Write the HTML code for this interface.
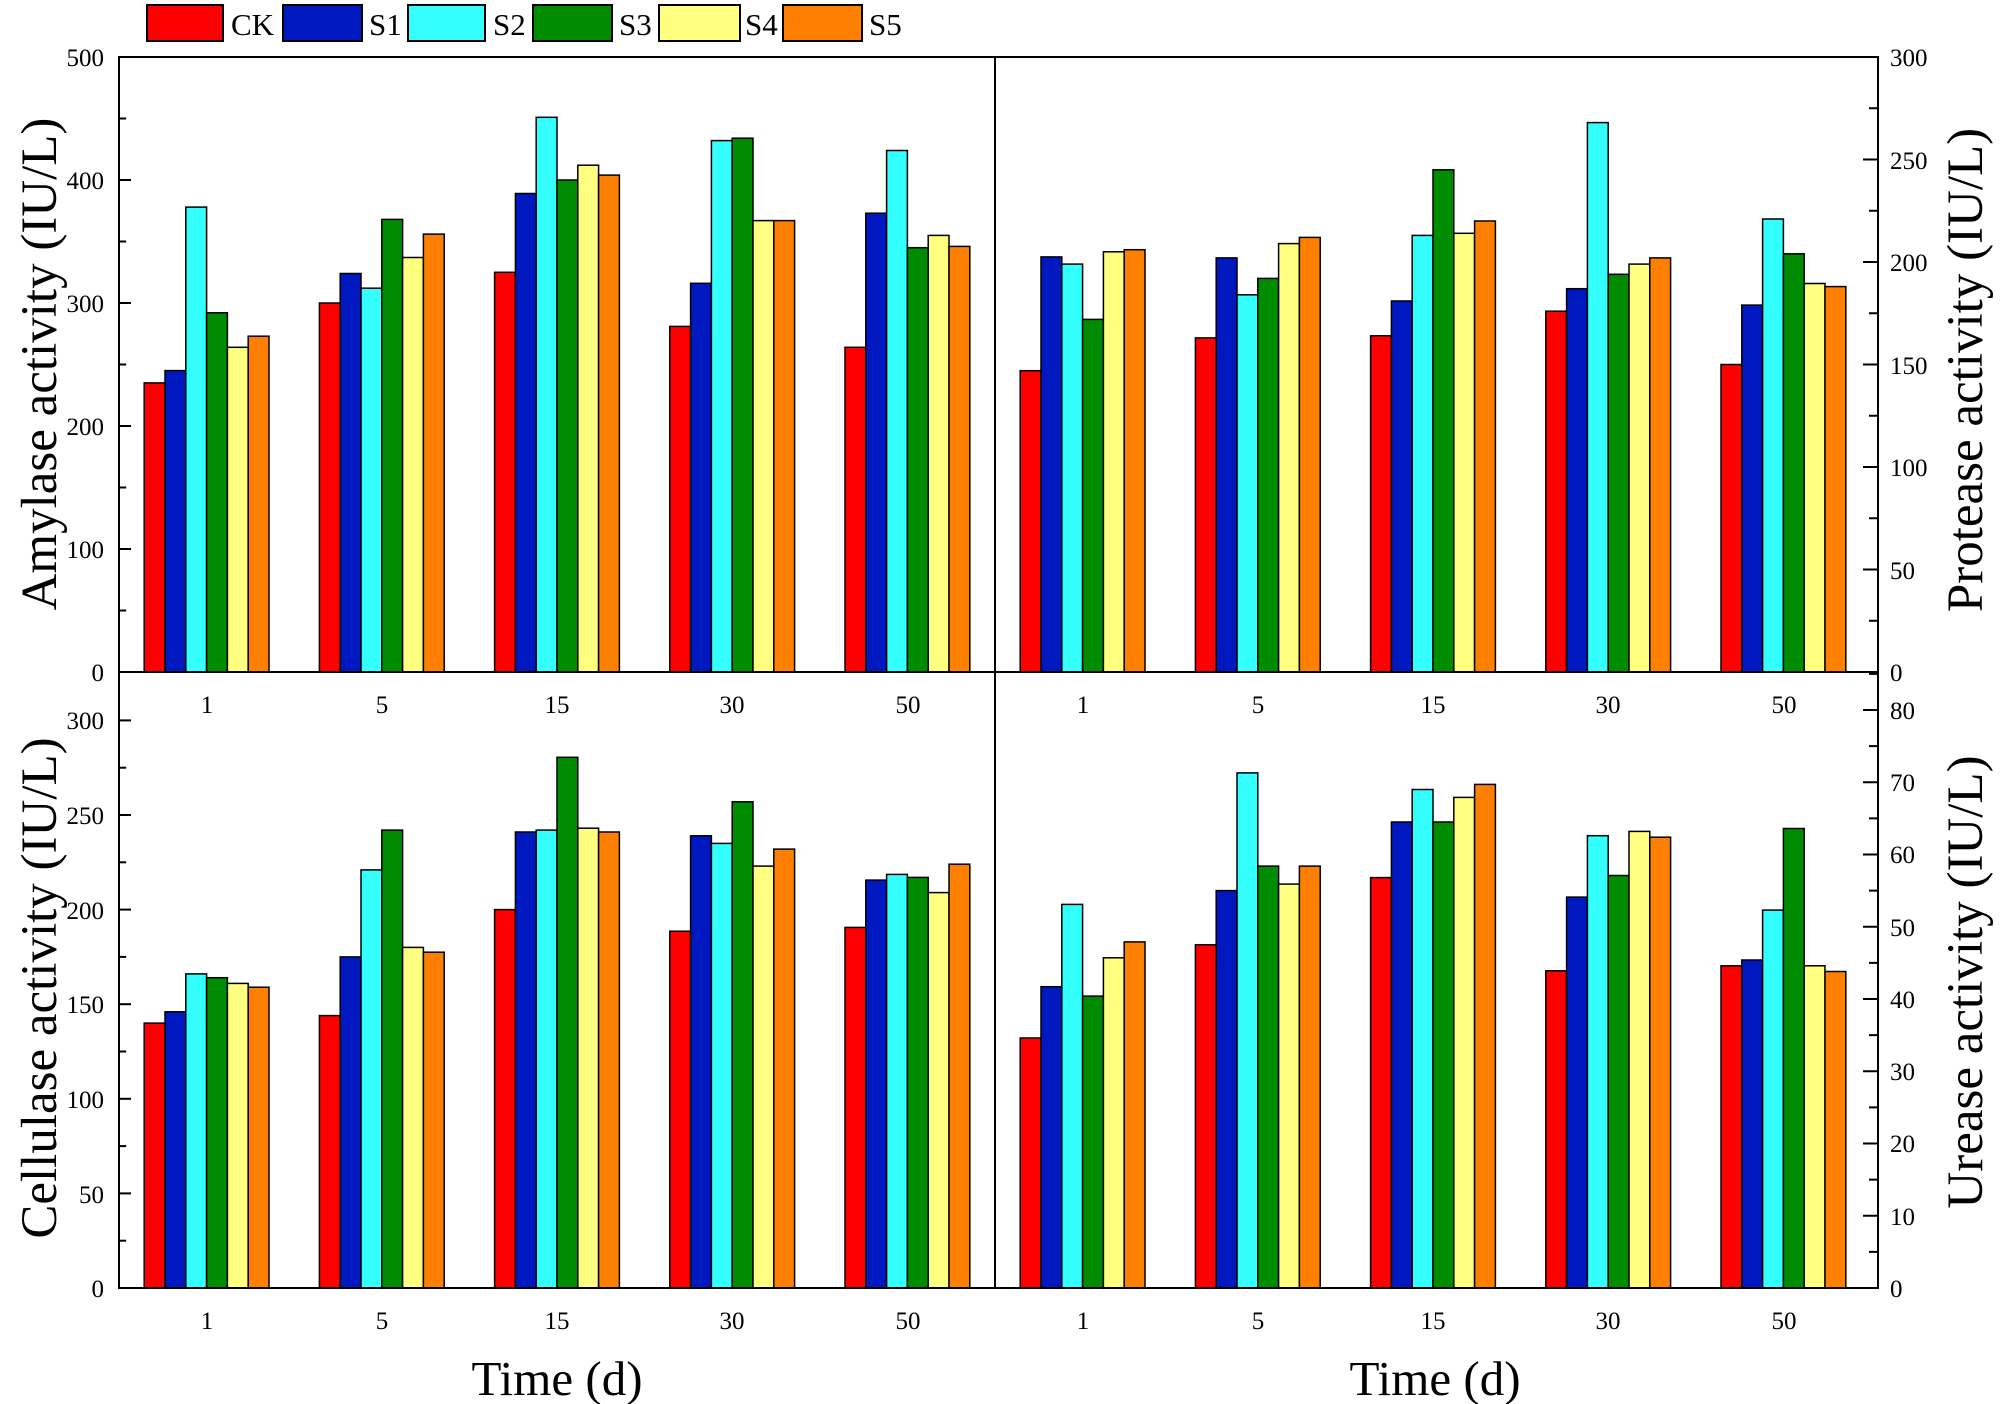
<!DOCTYPE html>
<html><head><meta charset="utf-8"><style>
html,body{margin:0;padding:0;background:#fff}
svg{display:block}
text{font-family:"Liberation Serif",serif;fill:#000}
</style></head><body>
<svg id="s" width="2000" height="1404" viewBox="0 0 2000 1404" xmlns="http://www.w3.org/2000/svg">
<g id="bars"></g>
<g stroke="#000" stroke-width="2" fill="none">
<rect x="119" y="57" width="1759" height="1231"/>
<line x1="995" y1="57" x2="995" y2="1288"/>
<line x1="119" y1="672" x2="1878" y2="672"/>
</g>
<g id="ticks" stroke="#000" stroke-width="2"></g>
<!-- legend -->
<g stroke="#000" stroke-width="2">
<rect x="147" y="5" width="76" height="36" fill="#FF0000"/>
<rect x="283" y="5" width="79" height="36" fill="#0018C0"/>
<rect x="408" y="5" width="77" height="36" fill="#33FFFF"/>
<rect x="533" y="5" width="79" height="36" fill="#008C00"/>
<rect x="659" y="5" width="81" height="36" fill="#FFFF80"/>
<rect x="783" y="5" width="79" height="36" fill="#FF8000"/>
</g>
<g font-size="31">
<text x="231" y="35">CK</text><text x="369" y="35">S1</text><text x="493" y="35">S2</text>
<text x="619" y="35">S3</text><text x="745" y="35">S4</text><text x="869" y="35">S5</text>
</g>
<!-- left tick labels -->
<g font-size="25" text-anchor="end">
<text x="104" y="66">500</text><text x="104" y="189">400</text><text x="104" y="312">300</text>
<text x="104" y="435">200</text><text x="104" y="558">100</text><text x="104" y="681">0</text>
<text x="104" y="729">300</text><text x="104" y="824">250</text><text x="104" y="919">200</text>
<text x="104" y="1013">150</text><text x="104" y="1108">100</text><text x="104" y="1203">50</text><text x="104" y="1297">0</text>
</g>
<g font-size="25" text-anchor="start">
<text x="1890" y="66">300</text><text x="1890" y="169">250</text><text x="1890" y="271">200</text>
<text x="1890" y="374">150</text><text x="1890" y="476">100</text><text x="1890" y="579">50</text><text x="1890" y="681">0</text>
<text x="1890" y="719">80</text><text x="1890" y="791">70</text><text x="1890" y="863">60</text>
<text x="1890" y="936">50</text><text x="1890" y="1008">40</text><text x="1890" y="1080">30</text>
<text x="1890" y="1152">20</text><text x="1890" y="1225">10</text><text x="1890" y="1297">0</text>
</g>
<g font-size="25" text-anchor="middle">
<text x="207" y="713">1</text><text x="382" y="713">5</text><text x="557" y="713">15</text><text x="732" y="713">30</text><text x="908" y="713">50</text>
<text x="1083" y="713">1</text><text x="1258" y="713">5</text><text x="1433" y="713">15</text><text x="1608" y="713">30</text><text x="1784" y="713">50</text>
<text x="207" y="1329">1</text><text x="382" y="1329">5</text><text x="557" y="1329">15</text><text x="732" y="1329">30</text><text x="908" y="1329">50</text>
<text x="1083" y="1329">1</text><text x="1258" y="1329">5</text><text x="1433" y="1329">15</text><text x="1608" y="1329">30</text><text x="1784" y="1329">50</text>
</g>
<g font-size="49" text-anchor="middle">
<text x="557" y="1395">Time (d)</text>
<text x="1435" y="1395">Time (d)</text>
</g>
<g font-size="51" text-anchor="middle">
<text transform="translate(56,364) rotate(-90)">Amylase activity (IU/L)</text>
<text transform="translate(56,988) rotate(-90)">Cellulase activity (IU/L)</text>
<text transform="translate(1982,370) rotate(-90)">Protease activity (IU/L)</text>
<text transform="translate(1982,982) rotate(-90)">Urease activity (IU/L)</text>
</g>
</svg>
<script>
var C=["#FF0000","#0018C0","#33FFFF","#008C00","#FFFF80","#FF8000"];
var P=[
 {x0:119,y0:672,k:615/500,d:[[235,245,378,292,264,273],[300,324,312,368,337,356],[325,389,451,400,412,404],[281,316,432,434,367,367],[264,373,424,345,355,346]]},
 {x0:995,y0:672,k:615/300,d:[[147,202.5,199,172,205,206],[163,202,184,192,209,212],[164,181,213,245,214,220],[176,187,268,194,199,202],[150,179,221,204,189.5,188]]},
 {x0:119,y0:1288,k:1.892,d:[[140,146,166,164,161,159],[144,175,221,242,180,177.5],[200,241,242,280.5,243,241],[188.6,239,235,257,223,232],[190.6,215.6,218.6,217,209,224]]},
 {x0:995,y0:1288,k:7.225,d:[[34.6,41.7,53.1,40.4,45.7,47.9],[47.5,55,71.3,58.4,55.9,58.4],[56.8,64.5,69,64.5,67.9,69.7],[43.9,54.1,62.6,57.1,63.2,62.4],[44.6,45.4,52.3,63.6,44.6,43.8]]}
];
var g=document.getElementById("bars"),h="";
P.forEach(function(p){p.d.forEach(function(gr,i){var c=p.x0+87.6+175.2*i;gr.forEach(function(v,j){var x=c-62.4+j*20.8,y=p.y0-v*p.k;
h+='<rect x="'+x.toFixed(1)+'" y="'+y.toFixed(1)+'" width="20.8" height="'+(v*p.k).toFixed(1)+'" fill="'+C[j]+'" stroke="#000" stroke-width="1.5"/>';});});});
g.innerHTML=h;
var t="";
function tk(x,y0,step,n,dir,len){for(var i=0;i<=n;i++){var y=y0-i*step;var L=(i%2==0)?len:len*0.6;t+='<line x1="'+x+'" y1="'+y+'" x2="'+(x+dir*L)+'" y2="'+y+'"/>';}}
tk(119,672,615/10,10,1,12);
tk(119,1288,1.892*25,12,1,12);
tk(1878,672,615/12,12,-1,15);
tk(1878,1288,7.225*5,17,-1,15);
document.getElementById("ticks").innerHTML=t;
</script>
</body></html>
